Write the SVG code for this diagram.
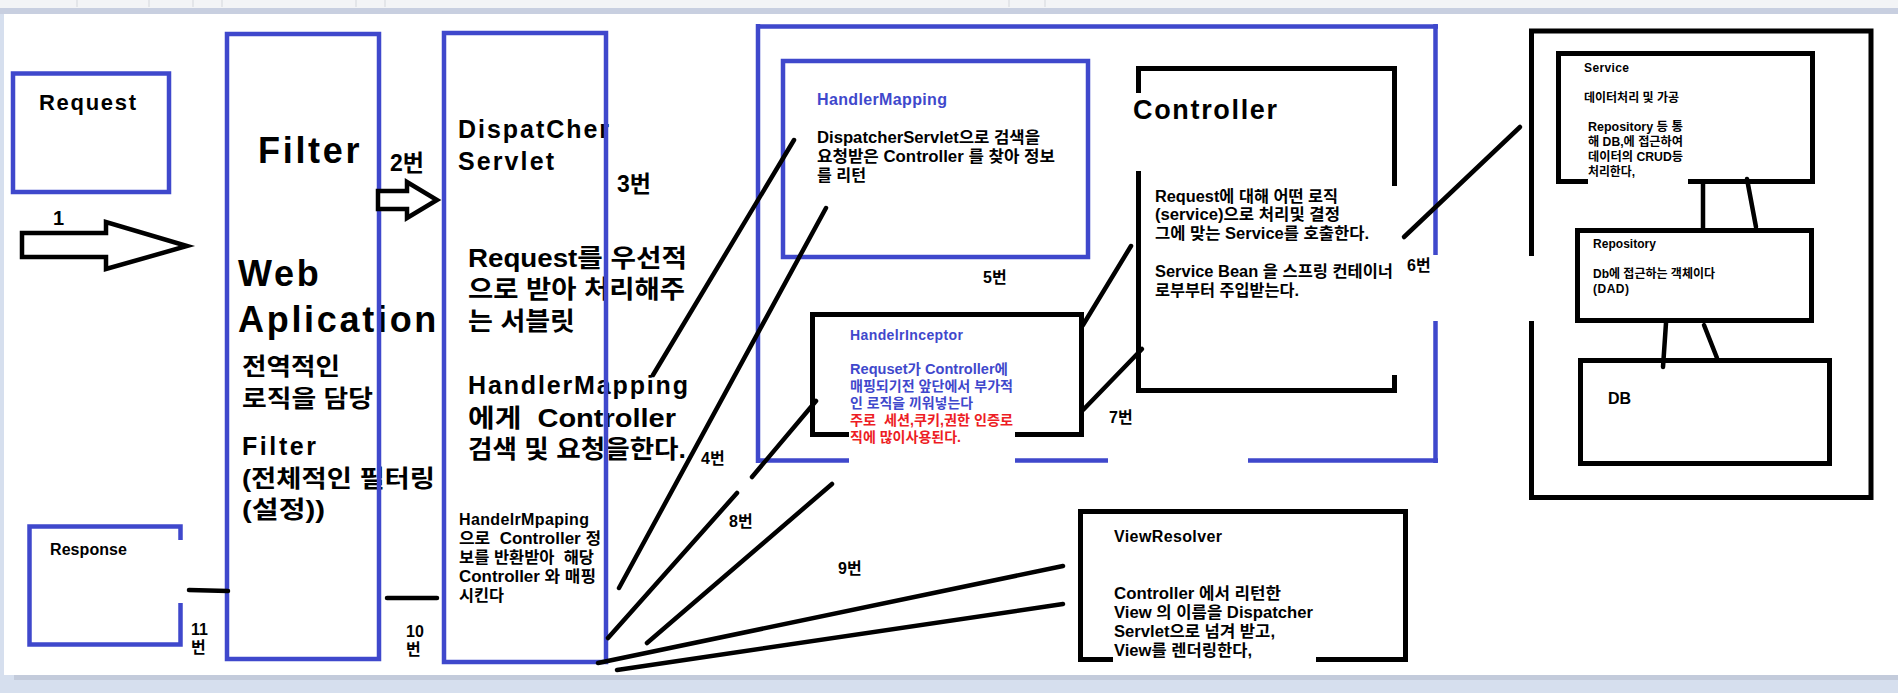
<svg xmlns="http://www.w3.org/2000/svg" width="1898" height="693" viewBox="0 0 1898 693">
<style>
text{font-family:"Liberation Sans","Noto Sans CJK KR",sans-serif;font-weight:bold;fill:#000;white-space:pre}
.b{fill:none;stroke:#3f48cc;stroke-width:4.5}
.k{fill:none;stroke:#000;stroke-width:5}
.ln{fill:none;stroke:#000;stroke-width:4.5;stroke-linecap:round}
.ar{fill:#fff;stroke:#000;stroke-width:4.5;stroke-linejoin:miter}
.h1{font-size:36px;letter-spacing:2.7px}
.h2{font-size:25px;letter-spacing:2px}
.h2k{font-size:25px}
.h3{font-size:24px}
.n{font-size:16px}
.s{font-size:16px}
.m{font-size:14px}
.t{font-size:12px}
.blue{fill:#3f48cc}
.red{fill:#ed1c24}
</style>
<g id="background">
<rect x="0" y="0" width="1898" height="693" fill="#d6dfee"/>
<rect x="0" y="0" width="1898" height="8" fill="#f3f4f6"/>
<rect x="0" y="8" width="1898" height="6" fill="#c8cfe0"/>
<rect x="14" y="675" width="1884" height="5" fill="#c3cbdb"/>
<rect x="4" y="14" width="1894" height="661" fill="#fff"/>
<g stroke="#d4d7dc" stroke-width="1">
<path d="M77,0V7M149,0V7M193,0V7M222,0V7M356,0V7M385,0V7M1009,0V7M1045,0V7"/>
</g>
</g>

<g id="request">
<text x="39" y="110" style="font-size:22px" textLength="97" lengthAdjust="spacing">Request</text>
<rect class="b" x="13" y="73.5" width="156" height="118.5"/>
</g>

<g id="filter">
<text class="h1" x="258" y="163">Filter</text>
<text class="h1" x="238" y="286">Web</text>
<text class="h1" x="238" y="332">Aplication</text>
<text class="h3" x="242" y="375" textLength="98" lengthAdjust="spacingAndGlyphs">전역적인</text>
<text class="h3" x="242" y="407" textLength="131" lengthAdjust="spacingAndGlyphs">로직을 담당</text>
<text x="242" y="455" style="font-size:25px" textLength="74" lengthAdjust="spacing">Filter</text>
<text class="h3" x="242" y="487" textLength="193" lengthAdjust="spacingAndGlyphs">(전체적인 필터링</text>
<text class="h3" x="242" y="518" textLength="83" lengthAdjust="spacingAndGlyphs">(설정))</text>
<rect class="b" x="227" y="34" width="152" height="625"/>
</g>

<g id="dispatcher-servlet">
<text class="h2" x="458" y="138" textLength="153" lengthAdjust="spacing">DispatCher</text>
<text class="h2" x="458" y="170" textLength="98" lengthAdjust="spacing">Servlet</text>
<text class="h2k" x="468" y="267" textLength="219" lengthAdjust="spacingAndGlyphs">Request를 우선적</text>
<text class="h2k" x="468" y="298" textLength="217" lengthAdjust="spacingAndGlyphs">으로 받아 처리해주</text>
<text class="h2k" x="468" y="330" textLength="107" lengthAdjust="spacingAndGlyphs">는 서블릿</text>
<text class="h2" x="468" y="394" textLength="222" lengthAdjust="spacing">HandlerMapping</text>
<text class="h2k" x="468" y="427" textLength="208" lengthAdjust="spacingAndGlyphs">에게  Controller</text>
<text class="h2k" x="468" y="458" textLength="218" lengthAdjust="spacingAndGlyphs">검색 및 요청을한다.</text>
<text class="s" x="459" y="525" textLength="130" lengthAdjust="spacing">HandelrMpaping</text>
<text class="s" x="459" y="544" textLength="142" lengthAdjust="spacingAndGlyphs">으로  Controller 정</text>
<text class="s" x="459" y="563" textLength="135" lengthAdjust="spacingAndGlyphs">보를 반환받아  해당</text>
<text class="s" x="459" y="582" textLength="137" lengthAdjust="spacingAndGlyphs">Controller 와 매핑</text>
<text class="s" x="459" y="601" textLength="45" lengthAdjust="spacingAndGlyphs">시킨다</text>
<rect class="b" x="444" y="33" width="162" height="629"/>
</g>

<g id="handler-area">
<path class="b" d="M756,26.5H1438M758,24V463M1435.5,24V255M1435.5,321V463M756,460.5H849M1015,460.5H1108M1248,460.5H1438"/>
</g>

<g id="handler-mapping">
<rect class="b" x="783" y="61" width="305" height="196"/>
<text class="s blue" x="817" y="105" textLength="130" lengthAdjust="spacing">HandlerMapping</text>
<text class="s" x="817" y="143" textLength="223" lengthAdjust="spacingAndGlyphs">DispatcherServlet으로 검색을</text>
<text class="s" x="817" y="162" textLength="238" lengthAdjust="spacingAndGlyphs">요청받은 Controller 를 찾아 정보</text>
<text class="s" x="817" y="181" textLength="49" lengthAdjust="spacingAndGlyphs">를 리턴</text>
</g>

<g id="handler-interceptor">
<path class="k" d="M849,434.5H812.5V314.5H1081.5V434.5H1015"/>
<text class="m blue" x="850" y="340" textLength="113" lengthAdjust="spacing">HandelrInceptor</text>
<text class="m blue" x="850" y="374" textLength="158" lengthAdjust="spacingAndGlyphs">Requset가 Controller에</text>
<text class="m blue" x="850" y="391" textLength="163" lengthAdjust="spacingAndGlyphs">매핑되기전 앞단에서 부가적</text>
<text class="m blue" x="850" y="408" textLength="123" lengthAdjust="spacingAndGlyphs">인 로직을 끼워넣는다</text>
<text class="m red" x="850" y="425" textLength="163" lengthAdjust="spacingAndGlyphs">주로  세션,쿠키,권한 인증로</text>
<text class="m red" x="850" y="442" textLength="111" lengthAdjust="spacingAndGlyphs">직에 많이사용된다.</text>
</g>

<g id="controller">
<path class="k" d="M1138.5,93V68.5H1394.5V186M1394.5,375V390.5H1138.5V171"/>
<text x="1133" y="119" style="font-size:27px" textLength="144" lengthAdjust="spacing">Controller</text>
<text class="s" x="1155" y="202" textLength="183" lengthAdjust="spacingAndGlyphs">Request에 대해 어떤 로직</text>
<text class="s" x="1155" y="220" textLength="185" lengthAdjust="spacingAndGlyphs">(service)으로 처리및 결정</text>
<text class="s" x="1155" y="239" textLength="214" lengthAdjust="spacingAndGlyphs">그에 맞는 Service를 호출한다.</text>
<text class="s" x="1155" y="277" textLength="238" lengthAdjust="spacingAndGlyphs">Service Bean 을 스프링 컨테이너</text>
<text class="s" x="1155" y="296" textLength="144" lengthAdjust="spacingAndGlyphs">로부부터 주입받는다.</text>
</g>

<g id="service-area">
<path class="k" d="M1531.5,256V31H1871V497.5H1531.5V321"/>
</g>

<g id="service">
<path class="k" d="M1588,181.5H1558.5V53.5H1812.5V181.5H1688"/>
<text class="t" x="1584" y="72" textLength="45" lengthAdjust="spacing">Service</text>
<text class="t" x="1584" y="102" textLength="95" lengthAdjust="spacingAndGlyphs">데이터처리 및 가공</text>
<text class="t" x="1588" y="131" textLength="95" lengthAdjust="spacingAndGlyphs">Repository 등 통</text>
<text class="t" x="1588" y="146" textLength="95" lengthAdjust="spacingAndGlyphs">해 DB,에 접근하여</text>
<text class="t" x="1588" y="161" textLength="95" lengthAdjust="spacingAndGlyphs">데이터의 CRUD등</text>
<text class="t" x="1588" y="176" textLength="47" lengthAdjust="spacingAndGlyphs">처리한다,</text>
</g>

<g id="repository">
<rect class="k" x="1577.5" y="230.5" width="234" height="90"/>
<text class="t" x="1593" y="248" textLength="63" lengthAdjust="spacing">Repository</text>
<text class="t" x="1593" y="278" textLength="122" lengthAdjust="spacingAndGlyphs">Db에 접근하는 객체이다</text>
<text class="t" x="1593" y="293" textLength="36" lengthAdjust="spacing">(DAD)</text>
</g>

<g id="db">
<rect class="k" x="1580.5" y="360.5" width="249" height="103"/>
<text class="n" x="1608" y="404">DB</text>
</g>

<g id="view-resolver">
<path class="k" d="M1113,659.5H1080.5V511.5H1405.5V659.5H1316"/>
<text class="s" x="1114" y="542" textLength="108" lengthAdjust="spacing">ViewResolver</text>
<text class="s" x="1114" y="599" textLength="167" lengthAdjust="spacingAndGlyphs">Controller 에서 리턴한</text>
<text class="s" x="1114" y="618" textLength="199" lengthAdjust="spacingAndGlyphs">View 의 이름을 Dispatcher</text>
<text class="s" x="1114" y="637" textLength="161" lengthAdjust="spacingAndGlyphs">Servlet으로 넘겨 받고,</text>
<text class="s" x="1114" y="656" textLength="138" lengthAdjust="spacingAndGlyphs">View를 렌더링한다,</text>
</g>

<g id="response">
<path class="b" d="M180.5,540V526.5H29.5V644.5H180.5V603"/>
<text class="s" x="50" y="555" textLength="77" lengthAdjust="spacing">Response</text>
</g>

<g id="connectors">
<polygon class="ar" points="22,233 106,233 106,222 187,246 106,269 106,257 22,257"/>
<polygon class="ar" points="378,191 407,191 407,182 437,200 407,218 407,209 378,209"/>
<path class="ln" d="M794,140L653,375"/>
<path class="ln" d="M826,208L619,588"/>
<path class="ln" d="M816,401L752,477"/>
<path class="ln" d="M737,493L608,638"/>
<path class="ln" d="M832,484L647,643"/>
<path class="ln" d="M1063,566L598,663"/>
<path class="ln" d="M1063,604L617,670"/>
<path class="ln" d="M1131,246L1083,325"/>
<path class="ln" d="M1142,349L1083,410"/>
<path class="ln" d="M1520,127L1404,237"/>
<path class="ln" d="M1703,184V228"/>
<path class="ln" d="M1747,179L1756,227"/>
<path class="ln" d="M1666,323L1663,367"/>
<path class="ln" d="M1704,325L1717,358"/>
<path class="ln" d="M387,598H437"/>
<path class="ln" d="M189,590L228,591"/>
</g>

<g id="labels">
<text x="53" y="225" style="font-size:20px">1</text>
<text x="390" y="171" style="font-size:23px">2번</text>
<text x="617" y="192" style="font-size:23px">3번</text>
<text class="n" x="701" y="464">4번</text>
<text class="n" x="983" y="283">5번</text>
<text class="n" x="1407" y="271">6번</text>
<text class="n" x="1109" y="423">7번</text>
<text class="n" x="729" y="527">8번</text>
<text class="n" x="838" y="574">9번</text>
<text class="n" x="406" y="637">10<tspan x="406" y="655">번</tspan></text>
<text class="n" x="191" y="635">11<tspan x="191" y="653">번</tspan></text>
</g>
</svg>
